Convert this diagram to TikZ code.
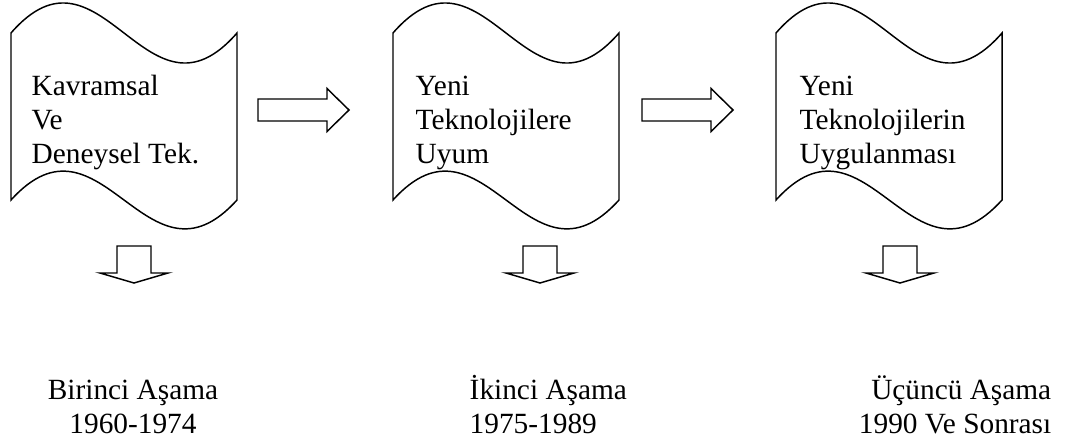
\documentclass[tikz,border=0pt]{standalone}
\usepackage{fontspec}
\setmainfont{Liberation Serif}
\begin{document}
\begin{tikzpicture}[x=0.75pt,y=-0.75pt,line width=1.1pt,line join=miter,
  txt/.style={font=\fontsize{22}{25.5}\selectfont,inner sep=0pt,align=left,anchor=base west},
  lbl/.style={font=\fontsize{22}{25.5}\selectfont,inner sep=0pt},
  tape/.pic={\draw[fill=white] (0,33) -- (0,200) .. controls (90.4,100) and (135.6,300) .. (226,200)
      -- (226,33) .. controls (135.6,137) and (90.4,-71) .. (0,33) -- cycle;},
  rarrow/.pic={\draw (0,-11) -- (69,-11) -- (69,-21.5) -- (91,0) -- (69,21.5) -- (69,11) -- (0,11) -- cycle;},
  darrow/.pic={\draw (-17,0) -- (17,0) -- (17,27) -- (34,27) -- (0,37) -- (-34,27) -- (-17,27) -- cycle;}]
\useasboundingbox (0,0) rectangle (1073,443);
\pic (s1) at (11,0) {tape};
\pic (s2) at (393,0) {tape};
\pic (s3) at (776,0) {tape};
\node[txt] (t1) at (31,163) {Kavramsal\\Ve\\Deneysel Tek.};
\node[txt] (t2) at (415,163) {Yeni\\Teknolojilere\\Uyum};
\node[txt] (t3) at (799,163) {Yeni\\Teknolojilerin\\Uygulanması};
\pic (r1) at (258,110) {rarrow};
\pic (r2) at (642,110) {rarrow};
\pic (d1) at (134,246) {darrow};
\pic (d2) at (540,246) {darrow};
\pic (d3) at (900,246) {darrow};
\node[lbl,align=center,anchor=base] (b1) at (133,433) {Birinci Aşama\\1960-1974};
\node[lbl,align=left,anchor=base west] (b2) at (469,433) {İkinci Aşama\\1975-1989};
\node[lbl,align=right,anchor=base east] (b3) at (1052,433) {Üçüncü Aşama\\1990 Ve Sonrası};
\end{tikzpicture}
\end{document}
